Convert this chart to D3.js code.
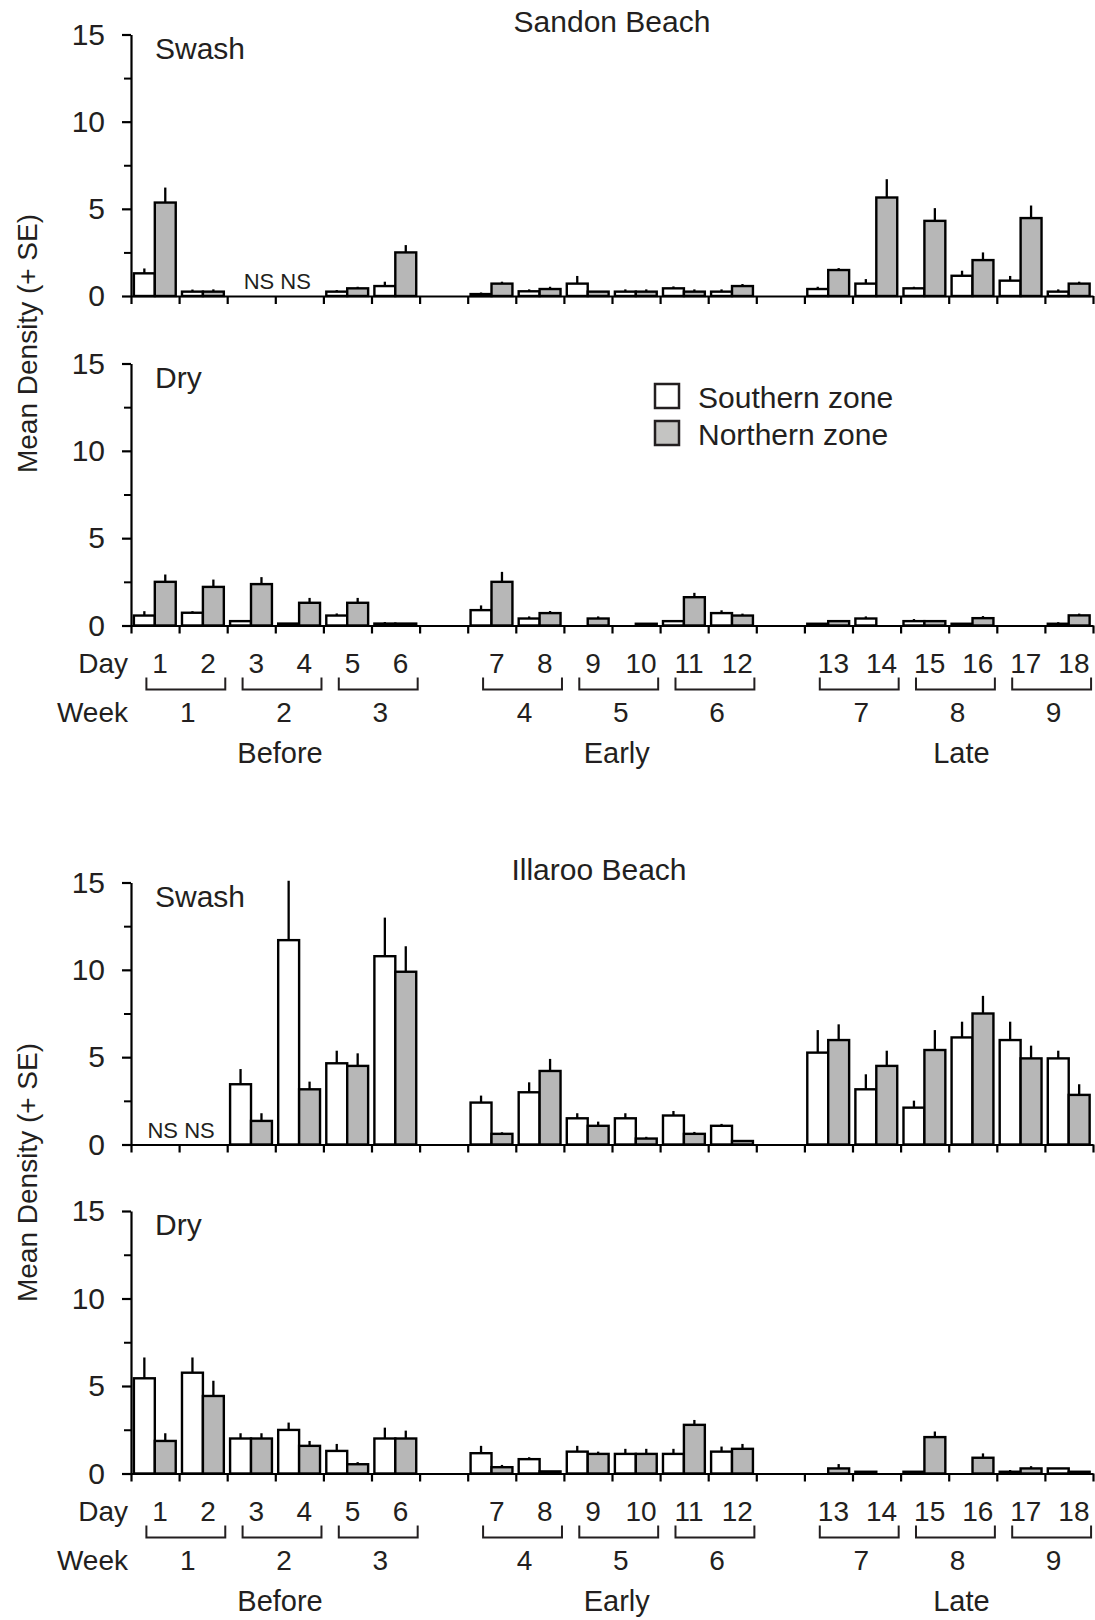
<!DOCTYPE html>
<html>
<head>
<meta charset="utf-8">
<script src="https://cdn.jsdelivr.net/npm/d3@7"></script>
<style>
  body { margin: 0; background: #fff; }
  text { font-family: "Liberation Sans", Arial, sans-serif; fill: #231f20; }
</style>
</head>
<body>
<div id="chart"></div>
<script>

// categories
var days = [1, 2, 3, 4, 5, 6, 7, 8, 9, 10, 11, 12, 13, 14, 15, 16, 17, 18];
var weeks = [1, 2, 3, 4, 5, 6, 7, 8, 9];
var periods = ["Before", "Early", "Late"];
var yTicks = [0, 5, 10, 15];
var yMinorTicks = [2.5, 7.5, 12.5];

// Sandon Beach, swash (null = not sampled)
var sandonSwashSouth   = [1.3, 0.25, null, null, 0.25, 0.57, 0.11, 0.27, 0.71, 0.25, 0.44, 0.25, 0.4, 0.71, 0.44, 1.16, 0.88, 0.25];
var sandonSwashSouthSE = [0.28, 0.12, null, null, 0.09, 0.25, 0.09, 0.11, 0.44, 0.13, 0.11, 0.13, 0.13, 0.26, 0.09, 0.29, 0.27, 0.13];
var sandonSwashNorth   = [5.36, 0.25, null, null, 0.44, 2.5, 0.71, 0.4, 0.25, 0.25, 0.25, 0.57, 1.49, 5.65, 4.31, 2.06, 4.47, 0.71];
var sandonSwashNorthSE = [0.86, 0.13, null, null, 0.09, 0.42, 0.11, 0.13, 0, 0.13, 0.13, 0.12, 0.11, 1.05, 0.73, 0.44, 0.72, 0.11];

// Sandon Beach, dry
var sandonDrySouth   = [0.57, 0.73, 0.25, 0.11, 0.57, 0.11, 0.88, 0.4, 0, 0, 0.25, 0.71, 0.1, 0.4, 0.25, 0.1, 0, 0.1];
var sandonDrySouthSE = [0.25, 0.09, 0, 0, 0.12, 0.09, 0.27, 0.12, 0, 0, 0, 0.16, 0, 0.12, 0.12, 0, 0, 0.09];
var sandonDryNorth   = [2.5, 2.21, 2.37, 1.3, 1.3, 0.11, 2.5, 0.71, 0.4, 0.1, 1.62, 0.57, 0.25, 0, 0.25, 0.42, 0, 0.58];
var sandonDryNorthSE = [0.42, 0.42, 0.4, 0.28, 0.28, 0, 0.57, 0.12, 0.12, 0, 0.25, 0.11, 0, 0, 0, 0.12, 0, 0.1];

// Illaroo Beach, swash
var illarooSwashSouth   = [null, null, 3.45, 11.7, 4.65, 10.78, 2.4, 2.99, 1.5, 1.5, 1.66, 1.07, 5.26, 3.16, 2.11, 6.13, 5.98, 4.93];
var illarooSwashSouthSE = [null, null, 0.87, 3.4, 0.72, 2.21, 0.4, 0.57, 0.29, 0.29, 0.26, 0.11, 1.29, 0.86, 0.4, 0.9, 1.05, 0.44];
var illarooSwashNorth   = [null, null, 1.35, 3.16, 4.5, 9.89, 0.61, 4.21, 1.07, 0.34, 0.61, 0.2, 5.98, 4.5, 5.41, 7.5, 4.93, 2.84];
var illarooSwashNorthSE = [null, null, 0.44, 0.44, 0.72, 1.46, 0.09, 0.69, 0.24, 0.1, 0.11, 0.05, 0.9, 0.87, 1.14, 1.01, 0.73, 0.61];

// Illaroo Beach, dry
var illarooDrySouth   = [5.44, 5.76, 2.0, 2.49, 1.29, 2.0, 1.16, 0.82, 1.25, 1.12, 1.12, 1.25, 0, 0.1, 0.1, 0, 0.1, 0.29];
var illarooDrySouthSE = [1.19, 0.87, 0.3, 0.42, 0.4, 0.62, 0.42, 0.11, 0.33, 0.29, 0.29, 0.29, 0, 0, 0, 0, 0.1, 0];
var illarooDryNorth   = [1.86, 4.43, 2.0, 1.58, 0.53, 2.0, 0.36, 0.12, 1.12, 1.12, 2.78, 1.41, 0.29, 0, 2.08, 0.9, 0.29, 0.1];
var illarooDryNorthSE = [0.44, 0.87, 0.3, 0.28, 0.12, 0.45, 0.13, 0, 0.13, 0.29, 0.28, 0.28, 0.25, 0, 0.32, 0.25, 0.13, 0];

var width = 1095, height = 1620;
var grey = "#b7b7b7";

var svg = d3.select("#chart")
    .append("svg")
    .attr("width", width)
    .attr("height", height);

// days sit in 20 slots: 6 days, empty slot, 6 days, empty slot, 6 days
var slot = function(d) { return d <= 6 ? d - 1 : (d <= 12 ? d : d + 1); };

var x = d3.scaleLinear().domain([0, 20]).range([131, 1093]);
var w = x(1) - x(0);
var zone = d3.scaleBand().domain(["south", "north"]).range([w * 0.06, w * 0.93]);

const render_panel = (top, bottom, south, southSE, north, northSE, label, nsText) => {
    var y = d3.scaleLinear().domain([0, 15]).range([bottom, top]);
    var g = svg.append("g");

    var data = [];
    days.forEach(function(d, i) {
        data.push({day: d, zone: "south", mean: south[i], se: southSE[i]});
        data.push({day: d, zone: "north", mean: north[i], se: northSE[i]});
    });
    var shown = data.filter(function(d) { return d.mean != null && d.mean > 0; });

    // error bars (upper only)
    g.selectAll(".err")
      .data(shown.filter(function(d) { return d.se > 0; }))
      .enter()
      .append("line")
      .attr("x1", function(d) { return x(slot(d.day)) + zone(d.zone) + zone.bandwidth() / 2; })
      .attr("x2", function(d) { return x(slot(d.day)) + zone(d.zone) + zone.bandwidth() / 2; })
      .attr("y1", function(d) { return y(d.mean); })
      .attr("y2", function(d) { return y(d.mean + d.se); })
      .attr("stroke", "#000")
      .attr("stroke-width", 2.3);

    g.selectAll(".bar")
      .data(shown)
      .enter()
      .append("rect")
      .attr("x", function(d) { return x(slot(d.day)) + zone(d.zone); })
      .attr("width", zone.bandwidth())
      .attr("y", function(d) { return y(d.mean); })
      .attr("height", function(d) { return bottom - y(d.mean); })
      .attr("fill", function(d) { return d.zone == "south" ? "#fff" : grey; })
      .attr("stroke", "#000")
      .attr("stroke-width", 2.4);

    // y axis
    var yAxis = g.append("g")
      .attr("transform", "translate(" + x(0) + ",0)")
      .call(d3.axisLeft(y).tickValues(yTicks).tickSize(9).tickSizeOuter(0).tickPadding(17));
    yAxis.selectAll("path, line").attr("stroke", "#000").attr("stroke-width", 2.2);
    yAxis.selectAll("text").style("font-size", "30px").style("font-family", "Liberation Sans, Arial, sans-serif").attr("fill", "#231f20");

    var minor = g.append("g")
      .attr("transform", "translate(" + x(0) + ",0)")
      .call(d3.axisLeft(y).tickValues(yMinorTicks).tickSize(7).tickFormat(""));
    minor.select(".domain").remove();
    minor.selectAll("line").attr("stroke", "#000").attr("stroke-width", 2);

    // x axis with a tick between every slot
    var xAxis = g.append("g")
      .attr("transform", "translate(0," + bottom + ")")
      .call(d3.axisBottom(x).tickValues(d3.range(21)).tickSize(8).tickSizeOuter(0).tickFormat(""));
    xAxis.selectAll("path, line").attr("stroke", "#000").attr("stroke-width", 2.2);

    g.append("text")
      .attr("x", x(0) + 24)
      .attr("y", top + 24)
      .style("font-size", "30px")
      .text(label);

    if (nsText) {
        g.append("text")
          .attr("x", x(nsText.slot) + 2)
          .attr("y", bottom - 7)
          .attr("text-anchor", "middle")
          .style("font-size", "22px")
          .text("NS NS");
    }
};

const render_labels = (zeroY) => {
    var g = svg.append("g");

    g.append("text")
      .attr("x", 128).attr("y", zeroY + 47)
      .attr("text-anchor", "end")
      .style("font-size", "28px")
      .text("Day");

    g.selectAll(".day")
      .data(days)
      .enter()
      .append("text")
      .attr("x", function(d) { return x(slot(d)) + w / 2 + 5; })
      .attr("y", zeroY + 47)
      .attr("text-anchor", "middle")
      .style("font-size", "28px")
      .text(function(d) { return d; });

    var bracketL = function(k) { return x(slot(2 * k - 1)) + w * 0.32; };
    var bracketR = function(k) { return x(slot(2 * k) + 1) - w * 0.04; };

    g.selectAll(".bracket")
      .data(weeks)
      .enter()
      .append("path")
      .attr("d", function(k) {
          return "M" + bracketL(k) + "," + (zeroY + 52) + "V" + (zeroY + 64) +
                 "H" + bracketR(k) + "V" + (zeroY + 52);
      })
      .attr("fill", "none")
      .attr("stroke", "#231f20")
      .attr("stroke-width", 2);

    g.append("text")
      .attr("x", 128).attr("y", zeroY + 96)
      .attr("text-anchor", "end")
      .style("font-size", "28px")
      .text("Week");

    g.selectAll(".week")
      .data(weeks)
      .enter()
      .append("text")
      .attr("x", function(k) { return (bracketL(k) + bracketR(k)) / 2 + 2; })
      .attr("y", zeroY + 96)
      .attr("text-anchor", "middle")
      .style("font-size", "28px")
      .text(function(k) { return k; });

    var periodShift = [-2, -2, 6];
    g.selectAll(".period")
      .data(periods)
      .enter()
      .append("text")
      .attr("x", function(p, i) {
          return (bracketL(3 * i + 1) + bracketR(3 * i + 3)) / 2 + periodShift[i];
      })
      .attr("y", zeroY + 137)
      .attr("text-anchor", "middle")
      .style("font-size", "29px")
      .text(function(p) { return p; });
};

// Sandon Beach
svg.append("text").attr("x", 612).attr("y", 32).attr("text-anchor", "middle")
   .style("font-size", "30px").text("Sandon Beach");
render_panel(34.5, 296, sandonSwashSouth, sandonSwashSouthSE, sandonSwashNorth, sandonSwashNorthSE, "Swash", {slot: 3});
render_panel(363.5, 625.5, sandonDrySouth, sandonDrySouthSE, sandonDryNorth, sandonDryNorthSE, "Dry", null);
render_labels(625.5);

// Illaroo Beach
svg.append("text").attr("x", 599).attr("y", 880).attr("text-anchor", "middle")
   .style("font-size", "30px").text("Illaroo Beach");
render_panel(882.5, 1144.5, illarooSwashSouth, illarooSwashSouthSE, illarooSwashNorth, illarooSwashNorthSE, "Swash", {slot: 1});
render_panel(1211, 1473.5, illarooDrySouth, illarooDrySouthSE, illarooDryNorth, illarooDryNorthSE, "Dry", null);
render_labels(1473.5);

// y axis titles
[343.5, 1172.5].forEach(function(cy) {
    svg.append("text")
      .attr("transform", "translate(37," + cy + ") rotate(-90)")
      .attr("text-anchor", "middle")
      .style("font-size", "28px")
      .text("Mean Density (+ SE)");
});

// legend
var legend = svg.append("g");
var legendItems = [{name: "Southern zone", fill: "#fff"}, {name: "Northern zone", fill: "#c4c4c2"}];
legend.selectAll("rect")
  .data(legendItems)
  .enter()
  .append("rect")
  .attr("x", 655)
  .attr("y", function(d, i) { return 384 + i * 37; })
  .attr("width", 24)
  .attr("height", 24)
  .attr("fill", function(d) { return d.fill; })
  .attr("stroke", "#231f20")
  .attr("stroke-width", 2.5);
legend.selectAll("text")
  .data(legendItems)
  .enter()
  .append("text")
  .attr("x", 698)
  .attr("y", function(d, i) { return 408 + i * 37; })
  .style("font-size", "30px")
  .text(function(d) { return d.name; });

</script>
</body>
</html>
